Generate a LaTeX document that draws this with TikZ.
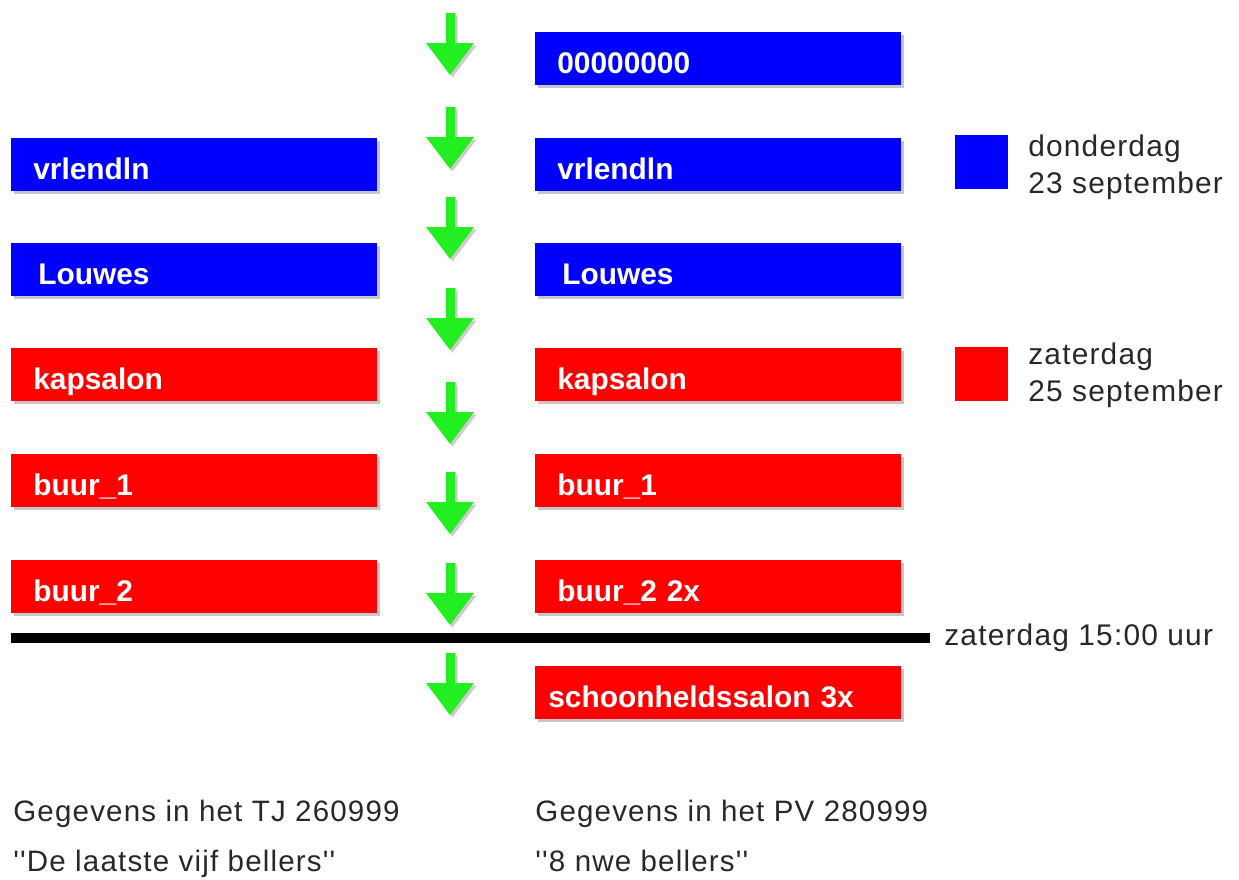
\documentclass[tikz,border=0pt]{standalone}
\usepackage{fontspec}
\setmainfont{Liberation Sans}
\newfontfamily\trackfont[LetterSpace=4]{Liberation Sans}
\usetikzlibrary{shadows,positioning}
\definecolor{dgblue}{RGB}{0,0,255}
\definecolor{dgred}{RGB}{255,0,0}
\definecolor{dggreen}{RGB}{34,238,34}
\definecolor{dgtext}{RGB}{40,40,40}
\tikzstyle{bar} = [rectangle, anchor=north west, minimum width=7.32cm, minimum height=1.06cm, text width=6.44cm, inner xsep=0.44cm, inner ysep=0pt, align=left, text height=16.4pt, text depth=0pt, text=white, font=\fontsize{17}{20}\selectfont\bfseries, drop shadow={shadow xshift=0.06cm, shadow yshift=-0.06cm, opacity=0.45}]
\tikzstyle{bluebar} = [bar, fill=dgblue]
\tikzstyle{redbar} = [bar, fill=dgred]
\tikzstyle{legbox} = [rectangle, anchor=north west, minimum width=1.06cm, minimum height=1.08cm, inner sep=0pt]
\tikzstyle{legtext} = [anchor=base west, inner sep=0pt, text=dgtext, font=\trackfont\fontsize{17}{20}\selectfont]
\tikzstyle{foottext} = [anchor=base west, inner sep=0pt, text=dgtext, font=\trackfont\fontsize{16.8}{20}\selectfont]
\tikzstyle{downarrow} = [fill=dggreen, drop shadow={shadow xshift=0.05cm, shadow yshift=-0.05cm, opacity=0.4}]

\begin{document}
\begin{tikzpicture}[x=0.02cm, y=-0.02cm]
\useasboundingbox (0,0) rectangle (1239,879);

% Green arrows
\foreach \y in {13,107,197,288,382,472,563,653}
  \path[downarrow] (446,\y) -- (455,\y) -- (455,\y+30) -- (474,\y+30) -- (450,\y+62) -- (426,\y+30) -- (446,\y+30) -- cycle;

% Left column (TJ)
\node[bluebar] at (11,138) (tj1) {vrlendln};
\node[bluebar] at (11,243) (tj2) {\hspace{0.1cm}Louwes};
\node[redbar] at (11,348) (tj3) {kapsalon};
\node[redbar] at (11,454) (tj4) {buur\_1};
\node[redbar] at (11,560) (tj5) {buur\_2};

% Right column (PV)
\node[bluebar] at (535,32) (pv0) {00000000};
\node[bluebar] at (535,138) (pv1) {vrlendln};
\node[bluebar] at (535,243) (pv2) {\hspace{0.1cm}Louwes};
\node[redbar] at (535,348) (pv3) {kapsalon};
\node[redbar] at (535,454) (pv4) {buur\_1};
\node[redbar] at (535,560) (pv5) {buur\_2 2x};
\node[redbar, inner xsep=0.26cm, text width=6.8cm] at (535,666) (pv6) {schoonheldssalon 3x};

% Legend
\node[legbox, fill=dgblue] at (955,135) (legblue) {};
\node[legtext] at (1028,156) (don1) {donderdag};
\node[legtext] at (1028,193) (don2) {23 september};
\node[legbox, fill=dgred] at (955,347) (legred) {};
\node[legtext] at (1028,364) (zat1) {zaterdag};
\node[legtext] at (1028,401) (zat2) {25 september};

% Time line
\node[legtext] at (944,645) (tijd) {zaterdag 15:00 uur};
\coordinate (lstart) at (11,638);
\coordinate (lend) at (930,638);
\draw[line width=0.2cm] (lstart) -- (lend);

% Sources
\node[foottext] at (13,821) (tjsrc) {Gegevens in het TJ 260999};
\node[foottext] at (13,871) (tjsub) {''De laatste vijf bellers''};
\node[foottext] at (535,821) (pvsrc) {Gegevens in het PV 280999};
\node[foottext] at (535,871) (pvsub) {''8 nwe bellers''};
\end{tikzpicture}
\end{document}
